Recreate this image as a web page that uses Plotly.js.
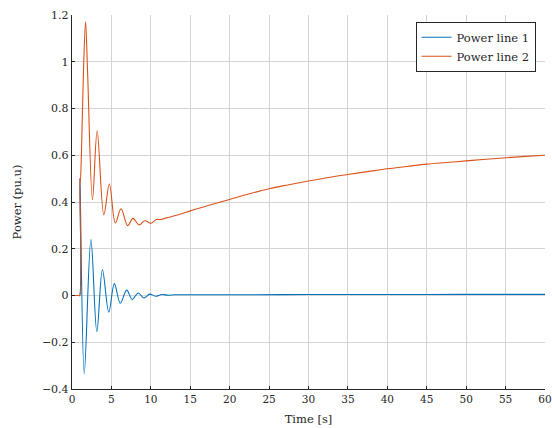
<!DOCTYPE html>
<html>
<head>
<meta charset="utf-8">
<script src="https://cdn.plot.ly/plotly-3.0.1.min.js"></script>
<style>html,body{margin:0;padding:0;background:#fff;}#chart{width:552px;height:428px;}</style>
</head>
<body>
<div id="chart"></div>
<script>
// Power line 1 (blue)
var line1Time = [0, 0.5, 0.9, 0.98, 1.0, 1.55, 2.40, 3.15, 3.86, 4.67, 5.37, 6.13, 6.94, 7.64, 8.40, 9.12, 9.87, 10.6, 11.4, 12.2, 13, 15, 20, 30, 40, 50, 60];
var line1Power = [0, 0, 0, 0, 0.50, -0.335, 0.239, -0.155, 0.11, -0.071, 0.051, -0.033, 0.023, -0.017, 0.011, -0.011, 0.006, -0.003, 0.004, 0.001, 0.003, 0.003, 0.003, 0.004, 0.004, 0.005, 0.005];

// Power line 2 (orange)
var line2Time = [0, 0.5, 0.9, 0.98, 1.0, 1.05, 1.2, 1.46, 1.72, 1.97, 2.6, 3.19, 4.04, 4.74, 5.5, 6.22, 7.06, 7.73, 8.52, 9.24, 10.0, 10.7, 11.3, 12.0, 13, 14, 15, 17.5, 20, 22.5, 25, 27.5, 30, 32.5, 35, 37.5, 40, 42.5, 45, 47.5, 50, 52.5, 55, 57.5, 60];
var line2Power = [0, 0, 0, 0, 0.50, 0.48, 0.61, 0.964, 1.171, 0.964, 0.41, 0.705, 0.345, 0.477, 0.31, 0.371, 0.299, 0.33, 0.302, 0.32, 0.309, 0.325, 0.325, 0.332, 0.341, 0.351, 0.362, 0.387, 0.411, 0.435, 0.457, 0.474, 0.49, 0.505, 0.518, 0.53, 0.542, 0.552, 0.562, 0.569, 0.576, 0.583, 0.589, 0.595, 0.60];

var seriesNames = ['Power line 1', 'Power line 2'];
var xTicks = [0, 5, 10, 15, 20, 25, 30, 35, 40, 45, 50, 55, 60];
var yTicks = [-0.4, -0.2, 0, 0.2, 0.4, 0.6, 0.8, 1, 1.2];

var font = 'DejaVu Serif';

var traces = [
  {x: line1Time, y: line1Power, name: seriesNames[0], type: 'scatter', mode: 'lines',
   line: {color: '#0072BD', width: 1.1, shape: 'spline', smoothing: 1}},
  {x: line2Time, y: line2Power, name: seriesNames[1], type: 'scatter', mode: 'lines',
   line: {color: '#D95319', width: 1.1, shape: 'spline', smoothing: 1}}
];

var layout = {
  width: 552, height: 428,
  margin: {l: 72, r: 7, t: 15, b: 39},
  paper_bgcolor: '#fff', plot_bgcolor: '#fff',
  font: {family: font, size: 11, color: '#262626'},
  showlegend: true,
  legend: {x: 0.98, xanchor: 'right', y: 0.982, yanchor: 'top',
           bgcolor: '#fff', bordercolor: '#262626', borderwidth: 1,
           font: {family: font, size: 11.5, color: '#262626'}},
  xaxis: {range: [0, 60], tickvals: xTicks, ticktext: xTicks.map(String),
          showgrid: true, gridcolor: '#d4d4d4', gridwidth: 1,
          showline: true, linecolor: '#262626', linewidth: 1.2, mirror: false,
          ticks: 'inside', ticklen: 3, tickcolor: '#262626',
          zeroline: false,
          title: {text: 'Time [s]', font: {family: font, size: 11.5, color: '#262626'}, standoff: 11},
          tickfont: {family: font, size: 10.5, color: '#262626'}},
  yaxis: {range: [-0.4, 1.2], tickvals: yTicks,
          showgrid: true, gridcolor: '#d4d4d4', gridwidth: 1,
          showline: true, linecolor: '#262626', linewidth: 1.2, mirror: false,
          ticks: 'inside', ticklen: 3, tickcolor: '#262626',
          zeroline: false,
          title: {text: 'Power (pu.u)', font: {family: font, size: 11.5, color: '#262626'}, standoff: 17},
          tickfont: {family: font, size: 11, color: '#262626'}}
};

Plotly.newPlot('chart', traces, layout, {staticPlot: true, displayModeBar: false});
</script>
</body>
</html>
